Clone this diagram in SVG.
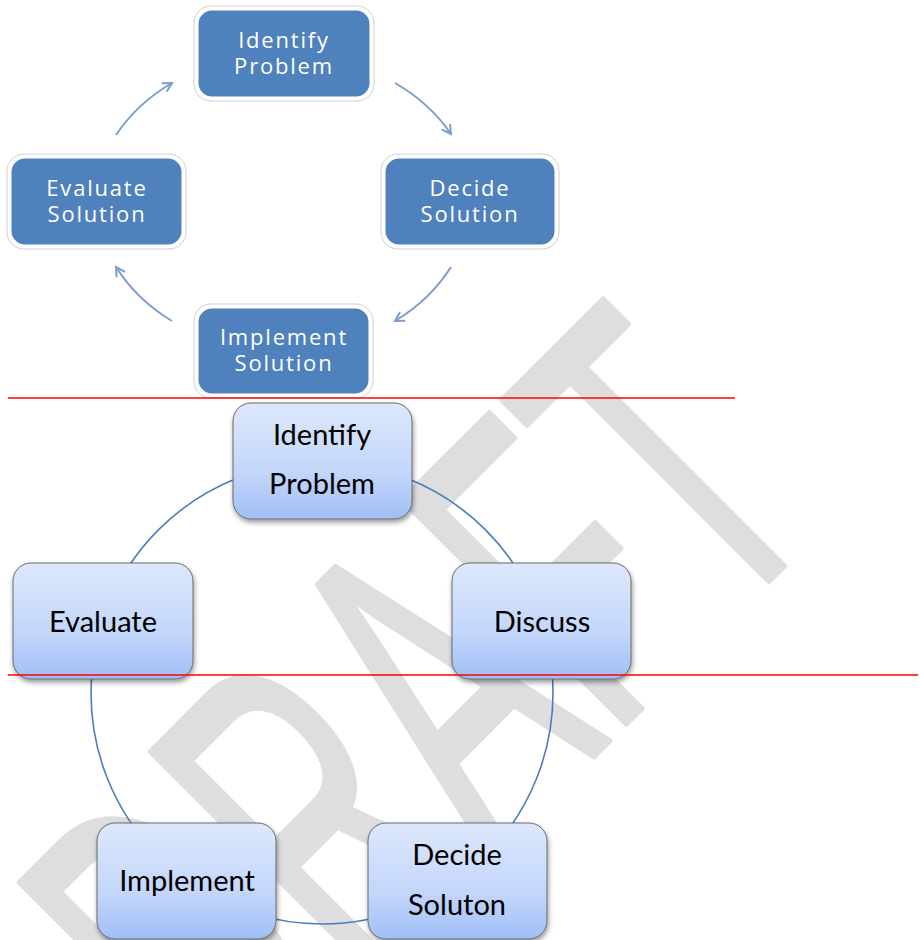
<svg xmlns="http://www.w3.org/2000/svg" width="920" height="940" viewBox="0 0 920 940">
<style>
.wm{font-family:"Liberation Sans",Arial,sans-serif;font-size:460px;fill:#dedede;stroke:#dedede;stroke-width:6;stroke-linejoin:round}
.tb{fill:#4f81bd;stroke:#ffffff;stroke-width:3}
.tbo{fill:none;stroke:#cfcfcf;stroke-width:1}
.tt{font-family:"Open Sans","DejaVu Sans",sans-serif;font-size:22px;fill:#ffffff;text-anchor:middle;letter-spacing:1.8px}
.arr{fill:none;stroke:#7c9ec9;stroke-width:2}
.bb{fill:url(#g);stroke:#6a6a6a;stroke-width:1;filter:url(#sh)}
.bt{font-family:Lato,"Liberation Sans",sans-serif;font-size:29px;fill:#000;text-anchor:middle}
.red{stroke:#ff0000;stroke-width:1.5}
</style>
<defs>
<linearGradient id="g" x1="0" y1="0" x2="0" y2="1">
<stop offset="0" stop-color="#dde8fc"/>
<stop offset="0.6" stop-color="#c3d6fa"/>
<stop offset="1" stop-color="#a0bff7"/>
</linearGradient>
<filter id="sh" x="-10%" y="-10%" width="125%" height="130%">
<feDropShadow dx="1" dy="3" stdDeviation="2.5" flood-color="#000" flood-opacity="0.4"/>
</filter>
<marker id="ah" viewBox="0 0 12 12" refX="10" refY="6" markerWidth="12" markerHeight="12" markerUnits="userSpaceOnUse" orient="auto">
<path d="M1,1 L10,6 L1,11" fill="none" stroke="#7c9ec9" stroke-width="2"/>
</marker>
</defs>
<rect width="920" height="940" fill="#ffffff"/>
<g id="watermark">
<text class="wm" transform="translate(228,1122) rotate(-45) scale(0.557,1)">DRAFT</text>
</g>
<g id="connectors">
<path class="arr" d="M395,83 A180,160 0 0 1 451,134" marker-end="url(#ah)"/>
<path class="arr" d="M451,267 A180,160 0 0 1 395,321" marker-end="url(#ah)"/>
<path class="arr" d="M172,321 A180,160 0 0 1 116,267" marker-end="url(#ah)"/>
<path class="arr" d="M116,135 A180,160 0 0 1 172,83" marker-end="url(#ah)"/>
<circle cx="322" cy="693" r="231" fill="none" stroke="#4a7ebb" stroke-width="1.6"/>
</g>
<g id="t-identify">
<rect class="tbo" x="194" y="6" width="180" height="95" rx="17"/>
<rect class="tb" x="197" y="9" width="174" height="89" rx="15"/>
<text class="tt" x="284" y="48">Identify</text>
<text class="tt" x="284" y="74">Problem</text>
</g>
<g id="t-decide">
<rect class="tbo" x="381" y="154" width="178" height="95" rx="17"/>
<rect class="tb" x="384" y="157" width="172" height="89" rx="15"/>
<text class="tt" x="470" y="196">Decide</text>
<text class="tt" x="470" y="222">Solution</text>
</g>
<g id="t-evaluate">
<rect class="tbo" x="7" y="154" width="179" height="95" rx="17"/>
<rect class="tb" x="10" y="157" width="173" height="89" rx="15"/>
<text class="tt" x="97" y="196">Evaluate</text>
<text class="tt" x="97" y="222">Solution</text>
</g>
<g id="t-implement">
<rect class="tbo" x="194" y="304" width="179" height="94" rx="17"/>
<rect class="tb" x="197" y="307" width="173" height="88" rx="15"/>
<text class="tt" x="284" y="345">Implement</text>
<text class="tt" x="284" y="371">Solution</text>
</g>
<g id="b-identify">
<rect class="bb" x="233" y="403" width="179" height="116" rx="18"/>
<text class="bt" x="322" y="445">Identify</text>
<text class="bt" x="322" y="494">Problem</text>
</g>
<g id="b-evaluate">
<rect class="bb" x="13" y="563" width="180" height="116" rx="18"/>
<text class="bt" x="103" y="632">Evaluate</text>
</g>
<g id="b-discuss">
<rect class="bb" x="452" y="563" width="179" height="116" rx="18"/>
<text class="bt" x="542" y="632">Discuss</text>
</g>
<g id="b-implement">
<rect class="bb" x="97" y="823" width="179" height="116" rx="18"/>
<text class="bt" x="187" y="891">Implement</text>
</g>
<g id="b-decide">
<rect class="bb" x="368" y="823" width="179" height="116" rx="18"/>
<text class="bt" x="457" y="865">Decide</text>
<text class="bt" x="457" y="915">Soluton</text>
</g>
<g id="redlines">
<line class="red" x1="8" y1="398" x2="735" y2="398"/>
<line class="red" x1="8" y1="675" x2="918" y2="675"/>
</g>
</svg>
